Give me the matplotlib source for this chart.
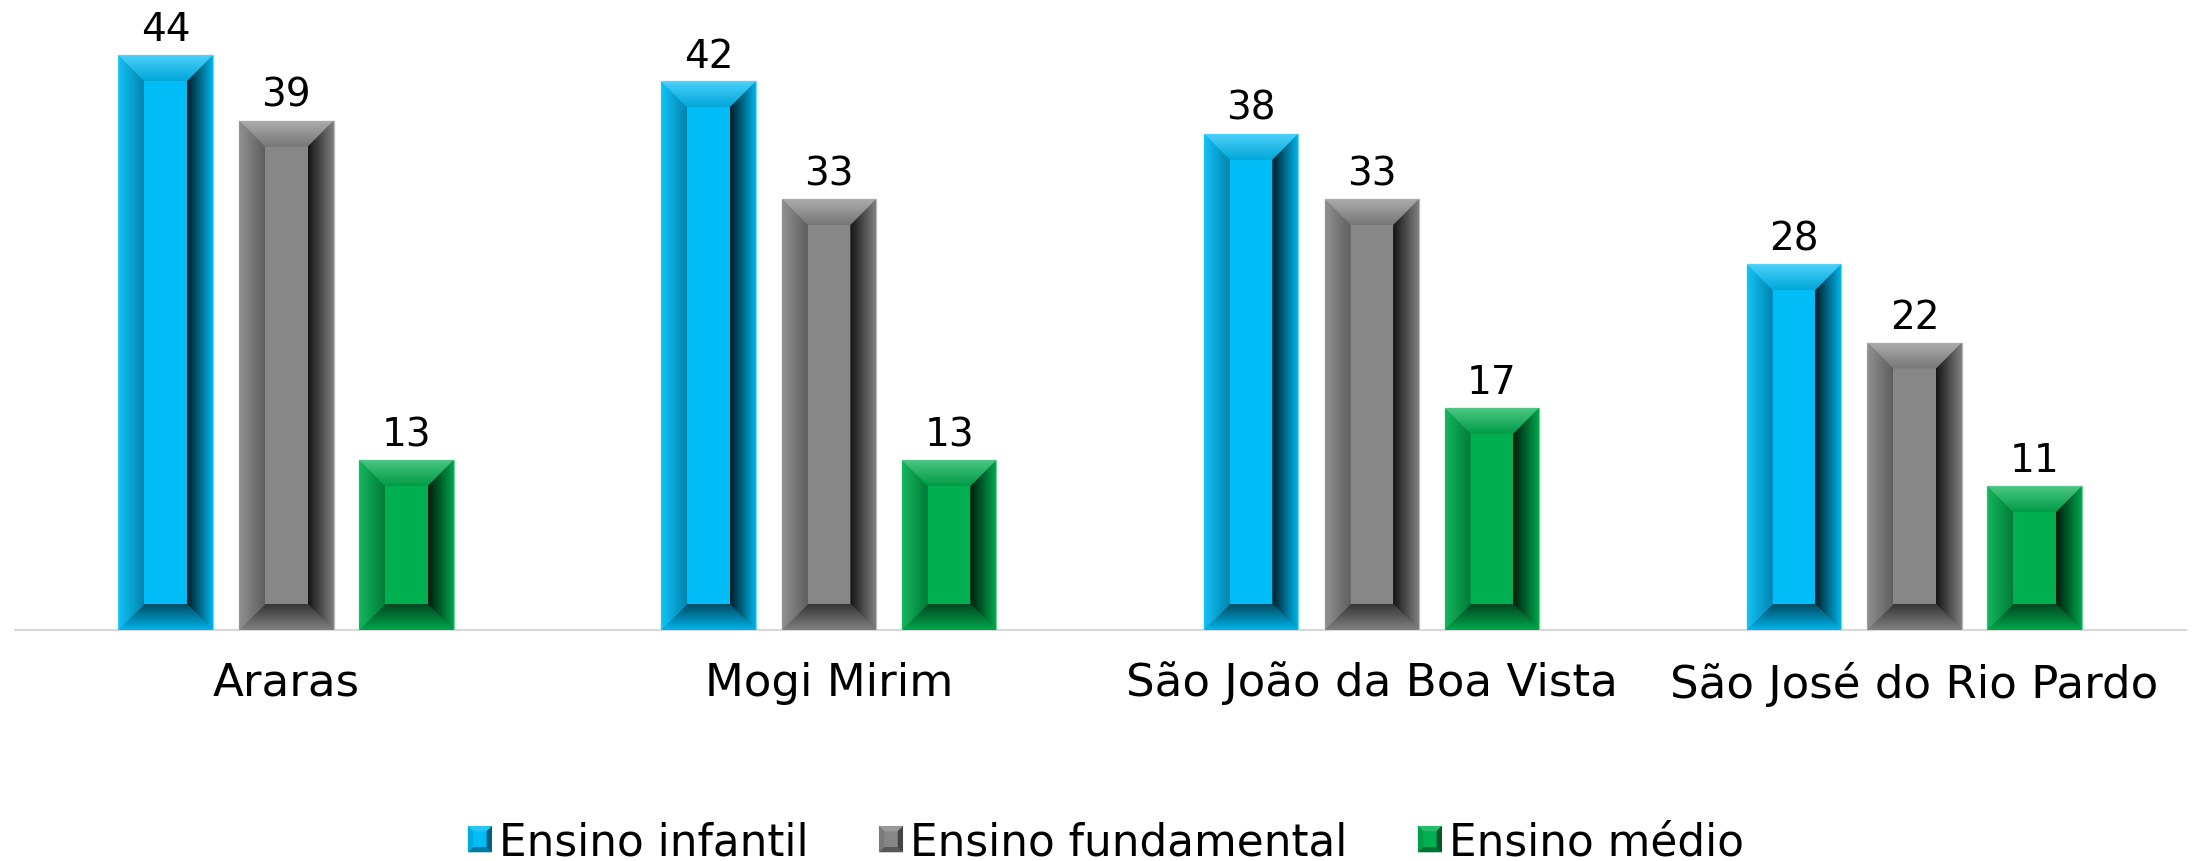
import numpy as np
import matplotlib
matplotlib.use("Agg")
import matplotlib.pyplot as plt
from matplotlib.patches import Polygon, Rectangle
from matplotlib.colors import LinearSegmentedColormap, to_rgb
from matplotlib.legend_handler import HandlerBase

# ---------------- data ----------------
categories = ["Araras", "Mogi Mirim", "São João da Boa Vista", "São José do Rio Pardo"]
series_names = ["Ensino infantil", "Ensino fundamental", "Ensino médio"]
infantil = [44, 42, 38, 28]
fundamental = [39, 33, 33, 22]
medio = [13, 13, 17, 11]
series_values = [infantil, fundamental, medio]
colors = ["#00BDF7", "#878787", "#00B050"]

plt.rcParams['font.family'] = ['DejaVu Sans']

W, H = 2199, 862
DPI = 100
fig = plt.figure(figsize=(W / DPI, H / DPI), dpi=DPI)
base_px = 631
ax = fig.add_axes([15 / W, (H - base_px) / H, 2171 / W, base_px / H])
ymax = base_px / 13.06
ax.set_xlim(-0.5, len(categories) - 0.5)
ax.set_ylim(0, ymax)

def shade(c, f):
    c = np.array(to_rgb(c))
    if f >= 0:
        return tuple(c + (1 - c) * f)
    return tuple(c * (1 + f))

bar_w = 0.174
offsets = [-0.2225, 0.0, 0.221]
x = np.arange(len(categories))

# bevel size in px -> data
bev_px = 26
dx = bev_px / (2171 / len(categories))
dy = bev_px / 13.06

def grad_img(poly_pts, extent, c_from, c_to, direction):
    cmap = LinearSegmentedColormap.from_list("g", [c_from, c_to])
    g = np.linspace(0, 1, 128)
    arr = g[None, :] if direction == "h" else g[:, None]
    poly = Polygon(poly_pts, closed=True, transform=ax.transData, facecolor='none', edgecolor='none')
    ax.add_patch(poly)
    im = ax.imshow(arr, extent=extent, origin='lower', aspect='auto', cmap=cmap,
                   interpolation='bilinear', zorder=3)
    im.set_clip_path(poly)

for s, (vals, col) in enumerate(zip(series_values, colors)):
    bars = ax.bar(x + offsets[s], vals, width=bar_w, color=col, zorder=2,
                  edgecolor=shade(col, 0.45), linewidth=1.0)
    for b, v in zip(bars, vals):
        x0 = b.get_x(); x1 = x0 + b.get_width()
        y0 = 0; y1 = b.get_height()
        xi0, xi1, yi0, yi1 = x0 + dx, x1 - dx, y0 + dy, y1 - dy
        # top bevel
        grad_img([(x0, y1), (x1, y1), (xi1, yi1), (xi0, yi1)], (x0, x1, yi1, y1),
                 shade(col, -0.12), shade(col, 0.3), "v")
        # bottom bevel
        grad_img([(x0, y0), (x1, y0), (xi1, yi0), (xi0, yi0)], (x0, x1, y0, yi0),
                 shade(col, -0.05), shade(col, -0.6), "v")
        # left bevel
        grad_img([(x0, y0), (xi0, yi0), (xi0, yi1), (x0, y1)], (x0, xi0, y0, y1),
                 shade(col, 0.08), shade(col, -0.3), "h")
        # right bevel
        grad_img([(x1, y0), (xi1, yi0), (xi1, yi1), (x1, y1)], (xi1, x1, y0, y1),
                 shade(col, -0.85), shade(col, -0.05), "h")
        ax.annotate(f"{v}", (b.get_x() + b.get_width() / 2, v), xytext=(0, 5),
                    textcoords='offset points', ha='center', va='bottom',
                    fontsize=28, color='black', zorder=5)

ax.set_xlim(-0.5, len(categories) - 0.5)
ax.set_ylim(0, ymax)

for sp in ['top', 'right', 'left']:
    ax.spines[sp].set_visible(False)
ax.spines['bottom'].set_color('#D9D9D9')
ax.spines['bottom'].set_linewidth(1.5)
ax.spines['bottom'].set_zorder(1)
ax.set_yticks([])
ax.set_xticks(x)
ax.set_xticklabels(categories, fontsize=32.5)
ax.tick_params(axis='x', length=0, pad=22)
ax.set_facecolor('none')


class BevelHandler(HandlerBase):
    def __init__(self, col):
        super().__init__()
        self.col = col

    def create_artists(self, legend, orig_handle, xdescent, ydescent, width, height, fontsize, trans):
        col = self.col
        x0, y0 = -xdescent, -ydescent
        x1, y1 = x0 + width, y0 + height
        b = width * 0.22
        arts = [Rectangle((x0, y0), width, height, facecolor=col, edgecolor='none', transform=trans)]
        polys = [
            ([(x0, y1), (x1, y1), (x1 - b, y1 - b), (x0 + b, y1 - b)], shade(col, 0.15)),
            ([(x0, y0), (x1, y0), (x1 - b, y0 + b), (x0 + b, y0 + b)], shade(col, -0.35)),
            ([(x0, y0), (x0 + b, y0 + b), (x0 + b, y1 - b), (x0, y1)], shade(col, -0.1)),
            ([(x1, y0), (x1 - b, y0 + b), (x1 - b, y1 - b), (x1, y1)], shade(col, -0.5)),
        ]
        for pts, c in polys:
            arts.append(Polygon(pts, closed=True, facecolor=c, edgecolor='none', transform=trans))
        return arts


handles = [Rectangle((0, 0), 1, 1, color=c) for c in colors]
leg = fig.legend(handles, series_names, loc='lower center', bbox_to_anchor=(0.503, -0.003),
                 ncol=3, frameon=False, fontsize=31.5, handlelength=0.55, handleheight=0.55,
                 handletextpad=0.17, columnspacing=1.6, borderpad=0.0, borderaxespad=0.0,
                 handler_map={h: BevelHandler(c) for h, c in zip(handles, colors)})

fig.savefig("out.png", dpi=DPI, facecolor='white')
